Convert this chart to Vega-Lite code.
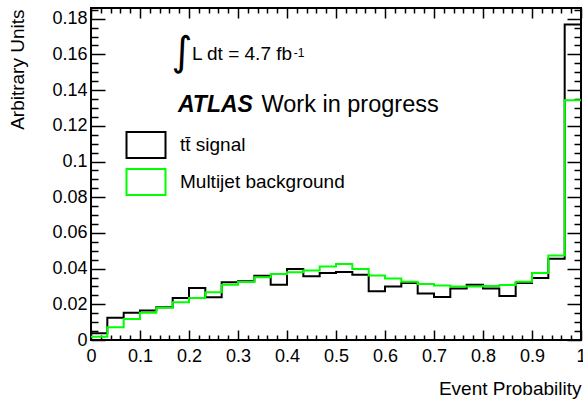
{
  "$schema": "https://vega.github.io/schema/vega-lite/v6.json",
  "width": 490,
  "height": 332,
  "autosize": {"type": "none"},
  "padding": {"left": 91, "top": 8, "right": 2, "bottom": 61},
  "background": "white",
  "config": {
    "font": "Liberation Sans",
    "view": {"stroke": "black", "strokeWidth": 2},
    "axis": {"domain": false, "grid": false, "tickColor": "black", "tickWidth": 1.5, "labelColor": "black", "titleColor": "black", "labelFont": "Liberation Sans", "titleFont": "Liberation Sans", "labelFontSize": 18, "titleFontSize": 19, "titleFontWeight": "normal", "labelOverlap": false, "labelFlush": false, "labelBound": false}
  },
  "datasets": {
    "hist": [
      {"bin": 1, "lo": 0, "hi": 0.0333, "sig": 0.0038, "bkg": 0.0018},
      {"bin": 2, "lo": 0.0333, "hi": 0.0667, "sig": 0.0124, "bkg": 0.0072},
      {"bin": 3, "lo": 0.0667, "hi": 0.1, "sig": 0.0152, "bkg": 0.0118},
      {"bin": 4, "lo": 0.1, "hi": 0.1333, "sig": 0.0165, "bkg": 0.0152},
      {"bin": 5, "lo": 0.1333, "hi": 0.1667, "sig": 0.0183, "bkg": 0.018},
      {"bin": 6, "lo": 0.1667, "hi": 0.2, "sig": 0.0236, "bkg": 0.0211},
      {"bin": 7, "lo": 0.2, "hi": 0.2333, "sig": 0.0292, "bkg": 0.0236},
      {"bin": 8, "lo": 0.2333, "hi": 0.2667, "sig": 0.0239, "bkg": 0.0267},
      {"bin": 9, "lo": 0.2667, "hi": 0.3, "sig": 0.0323, "bkg": 0.031},
      {"bin": 10, "lo": 0.3, "hi": 0.3333, "sig": 0.0329, "bkg": 0.0325},
      {"bin": 11, "lo": 0.3333, "hi": 0.3667, "sig": 0.036, "bkg": 0.0351},
      {"bin": 12, "lo": 0.3667, "hi": 0.4, "sig": 0.031, "bkg": 0.037},
      {"bin": 13, "lo": 0.4, "hi": 0.4333, "sig": 0.0398, "bkg": 0.0379},
      {"bin": 14, "lo": 0.4333, "hi": 0.4667, "sig": 0.0357, "bkg": 0.039},
      {"bin": 15, "lo": 0.4667, "hi": 0.5, "sig": 0.0375, "bkg": 0.0412},
      {"bin": 16, "lo": 0.5, "hi": 0.5333, "sig": 0.0381, "bkg": 0.0426},
      {"bin": 17, "lo": 0.5333, "hi": 0.5667, "sig": 0.0366, "bkg": 0.0398},
      {"bin": 18, "lo": 0.5667, "hi": 0.6, "sig": 0.0273, "bkg": 0.0362},
      {"bin": 19, "lo": 0.6, "hi": 0.6333, "sig": 0.03, "bkg": 0.0344},
      {"bin": 20, "lo": 0.6333, "hi": 0.6667, "sig": 0.032, "bkg": 0.0327},
      {"bin": 21, "lo": 0.6667, "hi": 0.7, "sig": 0.026, "bkg": 0.0314},
      {"bin": 22, "lo": 0.7, "hi": 0.7333, "sig": 0.0241, "bkg": 0.0306},
      {"bin": 23, "lo": 0.7333, "hi": 0.7667, "sig": 0.0288, "bkg": 0.03},
      {"bin": 24, "lo": 0.7667, "hi": 0.8, "sig": 0.031, "bkg": 0.03},
      {"bin": 25, "lo": 0.8, "hi": 0.8333, "sig": 0.0288, "bkg": 0.0302},
      {"bin": 26, "lo": 0.8333, "hi": 0.8667, "sig": 0.0247, "bkg": 0.0308},
      {"bin": 27, "lo": 0.8667, "hi": 0.9, "sig": 0.032, "bkg": 0.0327},
      {"bin": 28, "lo": 0.9, "hi": 0.9333, "sig": 0.0347, "bkg": 0.0375},
      {"bin": 29, "lo": 0.9333, "hi": 0.9667, "sig": 0.0455, "bkg": 0.0474},
      {"bin": 30, "lo": 0.9667, "hi": 1, "sig": 0.1768, "bkg": 0.1343}
    ],
    "notes": [
      {"key": "int", "x": 0.1855, "y": 0.1609, "label": "∫"},
      {"key": "lumi", "x": 0.2059, "y": 0.1567, "label": "L dt = 4.7 fb"},
      {"key": "sup", "x": 0.4139, "y": 0.1584, "label": "-1"},
      {"key": "atlas", "x": 0.1774, "y": 0.1278, "label": "ATLAS"},
      {"key": "wip", "x": 0.348, "y": 0.1278, "label": "Work in progress"}
    ]
  },
  "resolve": {"axis": {"x": "independent", "y": "independent"}},
  "layer": [
    {
      "data": {"name": "hist"},
      "transform": [
        {"fold": ["sig", "bkg"], "as": ["series", "value"]},
        {"fold": ["lo", "hi"], "as": ["edge", "xpos"]}
      ],
      "mark": {"type": "line", "strokeWidth": 2, "interpolate": "linear"},
      "encoding": {
        "x": {"field": "xpos", "type": "quantitative", "scale": {"domain": [0, 1], "nice": false},
          "axis": {"orient": "bottom", "title": "Event Probability", "titleAnchor": "end", "titleAlign": "right", "titleBaseline": "alphabetic", "titleX": 490, "titleY": 54,
            "values": [0,0.02,0.04,0.06,0.08,0.1,0.12,0.14,0.16,0.18,0.2,0.22,0.24,0.26,0.28,0.3,0.32,0.34,0.36,0.38,0.4,0.42,0.44,0.46,0.48,0.5,0.52,0.54,0.56,0.58,0.6,0.62,0.64,0.66,0.68,0.7,0.72,0.74,0.76,0.78,0.8,0.82,0.84,0.86,0.88,0.9,0.92,0.94,0.96,0.98,1],
            "tickSize": {"condition": {"test": "abs(datum.value*10 - round(datum.value*10)) < 0.001", "value": -10}, "value": -5},
            "labelExpr": "abs(datum.value*10 - round(datum.value*10)) < 0.001 ? format(datum.value, '~g') : ''",
            "labelPadding": 17}},
        "y": {"field": "value", "type": "quantitative", "scale": {"domain": [0, 0.186], "nice": false, "zero": false},
          "axis": {"orient": "left", "title": "Arbitrary Units", "titleAngle": -90, "titleAlign": "right", "titleBaseline": "middle", "titleX": -74, "titleY": 1,
            "values": [0,0.005,0.01,0.015,0.02,0.025,0.03,0.035,0.04,0.045,0.05,0.055,0.06,0.065,0.07,0.075,0.08,0.085,0.09,0.095,0.1,0.105,0.11,0.115,0.12,0.125,0.13,0.135,0.14,0.145,0.15,0.155,0.16,0.165,0.17,0.175,0.18,0.185],
            "tickSize": {"condition": {"test": "abs(datum.value*50 - round(datum.value*50)) < 0.001", "value": -14}, "value": -7},
            "labelExpr": "abs(datum.value*50 - round(datum.value*50)) < 0.001 ? format(datum.value, '~g') : ''",
            "labelPadding": 18}},
        "color": {"field": "series", "type": "nominal", "scale": {"domain": ["sig", "bkg"], "range": ["black", "#00ff00"]},
          "legend": {"orient": "none", "legendX": 41, "legendY": 123, "title": null, "padding": 0,
            "labelExpr": "datum.value == 'sig' ? 'tt̄ signal' : 'Multijet background'",
            "labelFont": "Liberation Sans", "labelFontSize": 19, "labelColor": "black", "labelOffset": 20, "labelLimit": 400,
            "symbolType": "M-1.5,-1H1.5V1H-1.5Z", "symbolSize": 676, "symbolStrokeWidth": 2, "symbolFillColor": "transparent", "rowPadding": 3}},
        "order": [{"field": "bin", "type": "quantitative"}, {"field": "edge", "sort": "descending"}]
      }
    },
    {
      "data": {"name": "notes"},
      "transform": [{"filter": "datum.key == 'int'"}],
      "mark": {"type": "text", "font": "DejaVu Sans", "fontSize": 40, "align": "center", "baseline": "middle", "color": "black"},
      "encoding": {
        "x": {"field": "x", "type": "quantitative", "scale": {"domain": [0, 1], "nice": false},
          "axis": {"orient": "top", "title": null, "labels": false,
            "values": [0,0.02,0.04,0.06,0.08,0.1,0.12,0.14,0.16,0.18,0.2,0.22,0.24,0.26,0.28,0.3,0.32,0.34,0.36,0.38,0.4,0.42,0.44,0.46,0.48,0.5,0.52,0.54,0.56,0.58,0.6,0.62,0.64,0.66,0.68,0.7,0.72,0.74,0.76,0.78,0.8,0.82,0.84,0.86,0.88,0.9,0.92,0.94,0.96,0.98,1],
            "tickSize": {"condition": {"test": "abs(datum.value*10 - round(datum.value*10)) < 0.001", "value": -10}, "value": -5}}},
        "y": {"field": "y", "type": "quantitative", "scale": {"domain": [0, 0.186], "nice": false, "zero": false},
          "axis": {"orient": "right", "title": null, "labels": false,
            "values": [0,0.005,0.01,0.015,0.02,0.025,0.03,0.035,0.04,0.045,0.05,0.055,0.06,0.065,0.07,0.075,0.08,0.085,0.09,0.095,0.1,0.105,0.11,0.115,0.12,0.125,0.13,0.135,0.14,0.145,0.15,0.155,0.16,0.165,0.17,0.175,0.18,0.185],
            "tickSize": {"condition": {"test": "abs(datum.value*50 - round(datum.value*50)) < 0.001", "value": -14}, "value": -7}}},
        "text": {"field": "label"}
      }
    },
    {
      "data": {"name": "notes"},
      "transform": [{"filter": "datum.key == 'lumi'"}],
      "mark": {"type": "text", "fontSize": 19, "align": "left", "baseline": "alphabetic", "color": "black"},
      "encoding": {
        "x": {"field": "x", "type": "quantitative", "axis": null},
        "y": {"field": "y", "type": "quantitative", "axis": null},
        "text": {"field": "label"}
      }
    },
    {
      "data": {"name": "notes"},
      "transform": [{"filter": "datum.key == 'sup'"}],
      "mark": {"type": "text", "fontSize": 12, "align": "left", "baseline": "alphabetic", "color": "black"},
      "encoding": {
        "x": {"field": "x", "type": "quantitative", "axis": null},
        "y": {"field": "y", "type": "quantitative", "axis": null},
        "text": {"field": "label"}
      }
    },
    {
      "data": {"name": "notes"},
      "transform": [{"filter": "datum.key == 'atlas'"}],
      "mark": {"type": "text", "fontSize": 23, "fontWeight": "bold", "fontStyle": "italic", "align": "left", "baseline": "alphabetic", "color": "black"},
      "encoding": {
        "x": {"field": "x", "type": "quantitative", "axis": null},
        "y": {"field": "y", "type": "quantitative", "axis": null},
        "text": {"field": "label"}
      }
    },
    {
      "data": {"name": "notes"},
      "transform": [{"filter": "datum.key == 'wip'"}],
      "mark": {"type": "text", "fontSize": 23.5, "align": "left", "baseline": "alphabetic", "color": "black"},
      "encoding": {
        "x": {"field": "x", "type": "quantitative", "axis": null},
        "y": {"field": "y", "type": "quantitative", "axis": null},
        "text": {"field": "label"}
      }
    }
  ]
}
